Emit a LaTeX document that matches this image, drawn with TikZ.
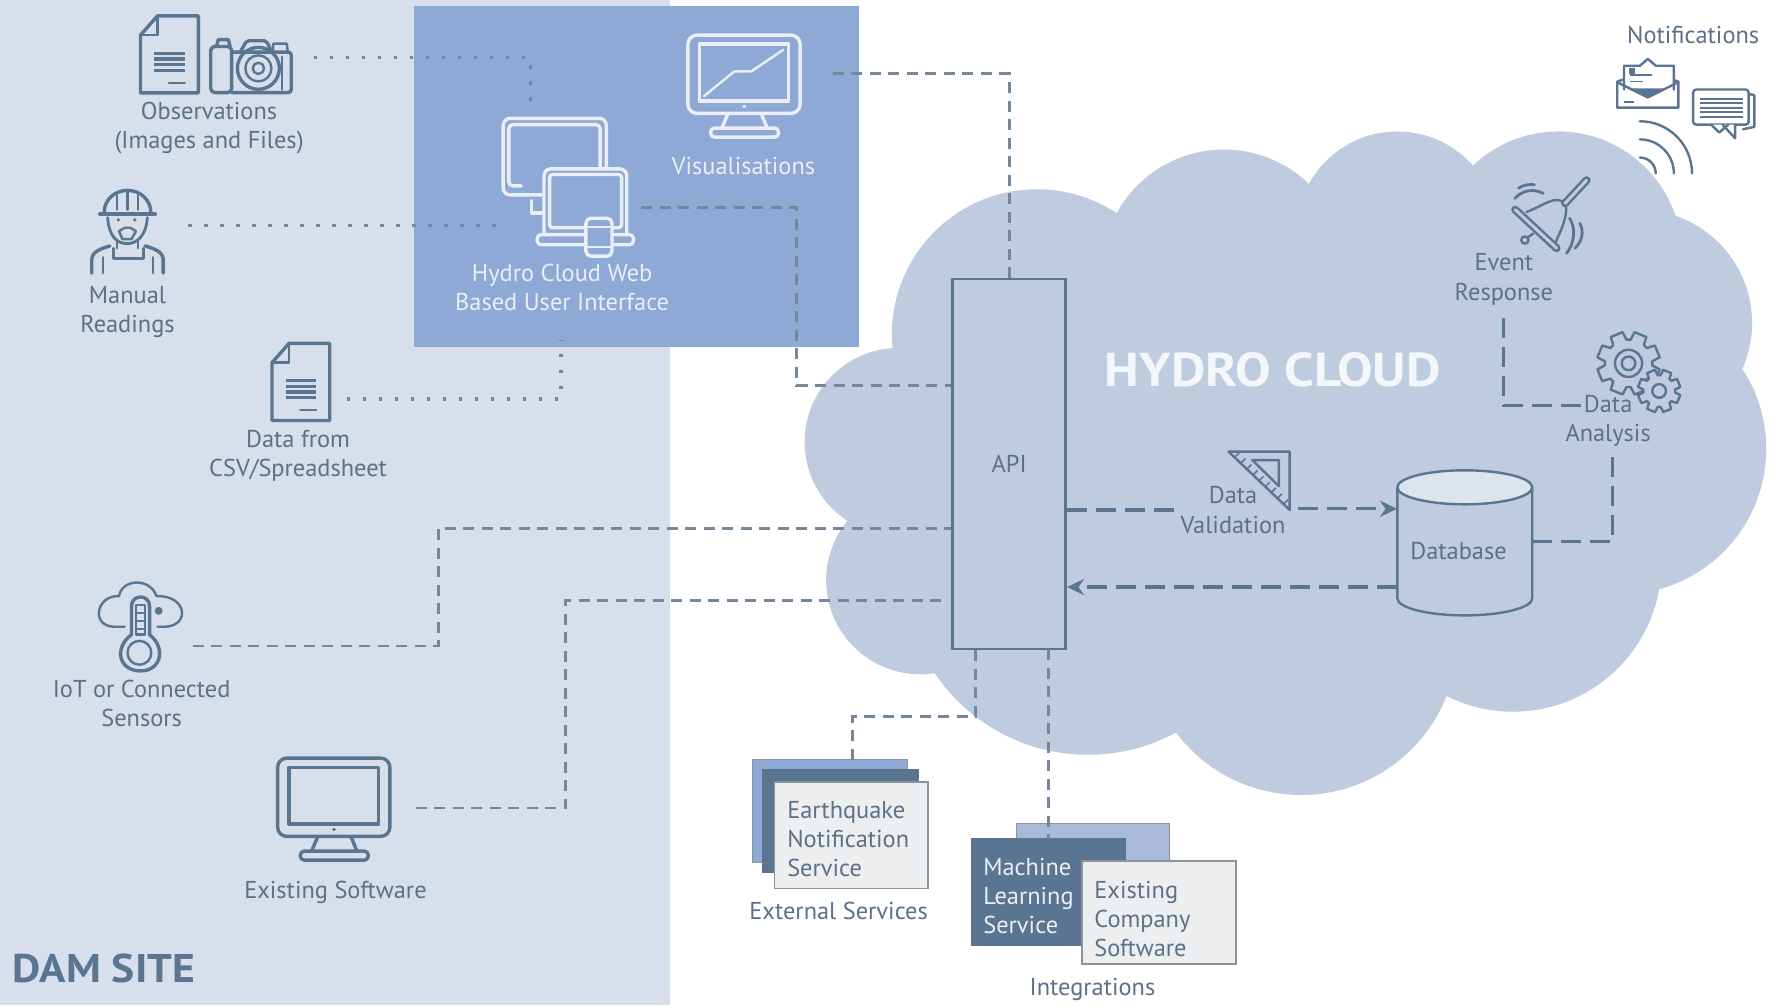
\documentclass[tikz,border=0pt]{standalone}
\usepackage{fontspec}
\setmainfont{PT Sans}
\usetikzlibrary{arrows.meta}
\definecolor{damc}{HTML}{D6DFEB}
\definecolor{bluec}{HTML}{8EA9D6}
\definecolor{cloudc}{HTML}{BFCCE0}
\definecolor{darkc}{HTML}{5A7590}
\definecolor{txtc}{HTML}{5C7087}
\definecolor{linec}{HTML}{75879B}
\definecolor{uic}{HTML}{E9EEF7}
\definecolor{hcc}{HTML}{F4F6FA}
\definecolor{paperc}{HTML}{EDEEF0}
\definecolor{edgec}{HTML}{8A929E}
\definecolor{backc}{HTML}{A9B9D8}
\tikzset{
  x=1.1333pt,y=-1.1333pt,
  lbl/.style={font=\fontsize{24.4}{29.2}\selectfont,text=txtc,align=center,inner sep=0pt},
  wlbl/.style={lbl,text=uic},
  llbl/.style={lbl,align=left,anchor=west},
  icon/.style={draw=darkc,line width=3.4pt,line cap=round,line join=round},
  iconw/.style={draw=uic,line width=3.4pt,line cap=round,line join=round},
  thin icon/.style={icon,line width=2.4pt},
  dsh/.style={draw=linec,line width=2.8pt,dash pattern=on 11pt off 7.5pt},
  dshl/.style={draw=darkc,line width=3.1pt,dash pattern=on 20pt off 9pt},
  dot/.style={draw=linec,line width=3.4pt,dash pattern=on 3.5pt off 12.5pt},
  sheet/.style={draw=edgec,line width=1.6pt,inner sep=0pt},
  pics/docicon/.style={code={
    \draw[icon] (15,0) -- (51,0) -- (51,68) -- (0,68) -- (0,17) -- cycle;
    \draw[thin icon] (0,17) -- (15,17) -- (15,0);
    \foreach \yy in {33,38,43,48}{\draw[icon,line cap=butt] (12,\yy) -- (39,\yy);}
    \draw[thin icon] (25,59) -- (39,59);
  }},
  pics/monitor/.style n args={2}{code={
    \draw[#1,fill=#2] (0,8) arc[start angle=180,end angle=270,radius=8] -- (91,0) arc[start angle=-90,end angle=0,radius=8] -- (99,61) arc[start angle=0,end angle=90,radius=8] -- (8,69) arc[start angle=90,end angle=180,radius=8] -- cycle;
    \draw[#1] (10,8) rectangle (89,58);
    \draw[#1] (35,70) -- (30,82);
    \draw[#1] (65,70) -- (70,82);
    \draw[#1,rounded corners=4pt] (20,82) rectangle (80,90);
    \draw[#1] (49.5,63) -- (50,63);
  }},
  pics/gear/.style n args={2}{code={
    \draw[thin icon,fill=cloudc] (#2,0)
      \foreach \i in {0,...,7}{
        -- ({\i*45+5}:#2) -- ({\i*45+11}:#1) -- ({\i*45+34}:#1) -- ({\i*45+40}:#2)
      } -- cycle;
  }},
}
\begin{document}
\begin{tikzpicture}
\useasboundingbox (0,0) rectangle (1568,887.7);
\fill[white] (0,0) rectangle (1568,887.7);
\fill[damc] (0,0) rectangle (591,887);
\fill[bluec] (365,5) rectangle (758,306);
% cloud
\fill[cloudc]
  (915,295) circle[radius=128]
  (1080,240) circle[radius=108]
  (1233,205) circle[radius=89]
  (1375,225) circle[radius=109]
  (1446,285) circle[radius=100]
  (1430,396) circle[radius=128.5]
  (1335,497) circle[radius=131]
  (1148,563.5) circle[radius=138]
  (960,503) circle[radius=163]
  (812,512) circle[radius=83]
  (793,390) circle[radius=83]
  (1130,400) ellipse[x radius=320,y radius=220];
% main nodes
\node[draw=darkc,line width=2.6pt,minimum width=113pt,minimum height=370pt,inner sep=0pt,text=txtc,font=\fontsize{24.4}{26}\selectfont] (api) at (890.5,409.5) {API};
\node[inner sep=0pt,minimum width=135pt,minimum height=145pt] (db) at (1292.5,479) {};
\draw[draw=darkc,line width=2.4pt] (1233,430) -- (1233,528) arc[start angle=180,end angle=0,x radius=59.5,y radius=15] -- (1352,430);
\draw[draw=darkc,line width=2.4pt,fill=damc!85!white] (1292.5,430) ellipse[x radius=59.5,y radius=15];
\node[lbl] (dbt) at (1287,486.5) {Database};
% sheets
\node[sheet,fill=bluec,minimum width=155pt,minimum height=103pt] (ext1) at (732.5,715.5) {};
\node[sheet,draw=darkc,fill=darkc,minimum width=155pt,minimum height=103pt] (ext2) at (741.5,724.5) {};
\node[sheet,fill=paperc,minimum width=153.5pt,minimum height=106.5pt] (ext3) at (751.2,737) {};
\node[sheet,fill=backc,minimum width=153pt,minimum height=80pt] (int1) at (964.5,762) {};
\node[sheet,draw=darkc,fill=darkc,minimum width=154pt,minimum height=107pt] (int2) at (925,787.2) {};
\node[sheet,fill=paperc,minimum width=153.7pt,minimum height=103pt] (int3) at (1022.8,805.3) {};
% connector ends
\coordinate (obsE) at (277,51); \coordinate (obsK) at (468,51); \coordinate (uiA) at (468,90);
\coordinate (manE) at (166,199); \coordinate (uiB) at (438,199);
\coordinate (csvE) at (306,352); \coordinate (csvK) at (495,352); \coordinate (uiC) at (495,300);
\coordinate (visE) at (735,65);
\coordinate (uiE) at (566,183); \coordinate (uiK1) at (703,183); \coordinate (uiK2) at (703,340);
\coordinate (iotE) at (170,570); \coordinate (iotK1) at (387,570); \coordinate (iotK2) at (387,466);
\coordinate (swE) at (367,713); \coordinate (swK1) at (499,713); \coordinate (swK2) at (499,530); \coordinate (swK3) at (831,530);
\coordinate (exK1) at (861,632); \coordinate (exK2) at (752,632); \coordinate (exE) at (752,672);
\coordinate (evS) at (1327,275); \coordinate (evK) at (1327,358); \coordinate (daW) at (1395,358);
\coordinate (daS) at (1423,400); \coordinate (daK) at (1423,478);
\coordinate (dvW) at (1037,450); \coordinate (dvE) at (1145,449);
\coordinate (inS) at (925,573); \coordinate (inE) at (925,740);
\coordinate (dbW) at (1233,518); \coordinate (dbE) at (1352,478);
% connectors
\draw[dot] (obsE) -- (obsK) -- (uiA);
\draw[dot] (manE) -- (uiB);
\draw[dot] (csvE) -- (csvK) -- (uiC);
\draw[dsh] (visE) -| (api.north);
\draw[dsh] (uiE) -- (uiK1) -- (uiK2) -- (api.west |- uiK2);
\draw[dsh] (iotE) -- (iotK1) -- (iotK2) -- (api.west |- iotK2);
\draw[dsh] (swE) -- (swK1) -- (swK2) -- (swK3);
\draw[dsh] (api.south -| exK1) -- (exK1) -- (exK2) -- (exE);
\draw[dsh] (inS) -- (inE);
\draw[dshl] (api.east |- dvW) -- (dvW);
\draw[dshl,-{Stealth[length=17pt,width=16pt]}] (dvE) -- (db.west |- dvE);
\draw[dshl,-{Stealth[length=17pt,width=16pt]}] (dbW) -- (api.east |- dbW);
\draw[dshl] (dbE) -- (daK) -- (daS);
\draw[dshl] (daW) -- (evK) -- (evS);
% observations icons
\pic (doc1) at (124,14) {docicon};
\pic (doc2) at (240,303) {docicon};
\draw[icon,rounded corners=3pt] (204.4,46) -- (257,46) -- (257,81.7) -- (204.4,81.7);
\draw[icon,rounded corners=4pt] (186,81.7) rectangle (204.4,41);
\draw[icon] (191,41) -- (192.6,35) -- (201.5,35) -- (203,41);
\draw[icon,rounded corners=2pt] (212,46) -- (217.6,36) -- (235,36) -- (240,46);
\draw[thin icon] (241,46) -- (241,38.5) -- (253,38.5) -- (254,46);
\draw[icon] (228,60.3) circle[radius=18.5];
\draw[thin icon] (228,60.3) circle[radius=11.5];
\draw[thin icon] (228,60.3) circle[radius=5];
\draw[thin icon] (249,50) -- (249,79);
% worker
\draw[icon] (92,187) arc[start angle=180,end angle=360,x radius=20.5,y radius=19];
\draw[icon] (88,189) -- (137,189);
\draw[thin icon] (103,172) -- (103,185) (112.5,169) -- (112.5,185) (122,172) -- (122,185);
\draw[icon,line width=2.8pt] (95,192) .. controls (96,208) and (103,215) .. (112,215) .. controls (121,215) and (129,208) .. (130,192);
\draw[thin icon] (105,204) -- (110,201) -- (115,201) -- (120,204) -- (116,211) -- (108,211) -- cycle;
\fill[darkc] (104.4,194) circle[radius=1.6] (119,194) circle[radius=1.6];
\draw[icon] (81,241) -- (81,229) .. controls (81,222) and (90,219) .. (97,217);
\draw[icon] (144,241) -- (144,229) .. controls (144,222) and (135,219) .. (128,217);
\draw[thin icon] (91,227) -- (91,241) (135,227) -- (135,241);
\draw[thin icon] (100,219) -- (100,228) -- (126.5,228) -- (126.5,219);
\draw[thin icon] (103,212) -- (103,219) (122,212) -- (122,219);
% visualisations monitor
\pic (vism) at (607,31) {monitor={iconw}{none}};
\draw[iconw,line width=2.4pt] (621,85) -- (648,63) -- (663,63) -- (691,44);
% software monitor
\begin{scope}[shift={(245,669)},scale=1.02]
\pic (swm) at (0,0) {monitor={icon}{none}};
\end{scope}
% web UI icon
\draw[iconw,rounded corners=7pt] (478,172) -- (444,172) -- (444,104.4) -- (535,104.4) -- (535,148);
\draw[iconw,rounded corners=4pt] (460,164) -- (449,164) -- (449,110) -- (529.5,110) -- (529.5,148);
\draw[iconw] (469,177) -- (469,188) -- (478,188);
\draw[iconw,fill=bluec,rounded corners=7pt] (480,206) -- (480,149) -- (553,149) -- (553,206);
\draw[iconw,rounded corners=3pt] (485,201) -- (485,154) -- (548.5,154) -- (548.5,201) -- cycle;
\draw[iconw,fill=bluec,rounded corners=4pt] (474,207) rectangle (559,216);
\draw[iconw,fill=bluec,rounded corners=5pt] (517,192.6) rectangle (540,226);
\draw[iconw,line width=2pt] (517,200) -- (540,200) (517,218) -- (540,218);
% notification icons
\draw[thin icon] (1433,70) -- (1427,72) -- (1427,95) -- (1481,95) -- (1481,72) -- (1475,70);
\draw[thin icon,fill=white] (1433,79) -- (1433,58) -- (1447,58) -- (1454,52) -- (1461,58) -- (1477,58) -- (1477,79);
\fill[darkc] (1439,78) -- (1469,78) -- (1454,85) -- cycle;
\draw[thin icon] (1428,73) -- (1454,86) -- (1480,73);
\draw[darkc,line width=1.6pt] (1438,66) -- (1458,66) (1438,72) -- (1450,72);
\fill[darkc] (1437,60) rectangle (1443,65);
\draw[darkc,line width=1.6pt] (1433,90) -- (1442,90);
\draw[thin icon,fill=white] (1539,82) -- (1548,84) -- (1548,112) -- (1538,114);
\draw[thin icon,fill=white,rounded corners=3pt] (1494,79) rectangle (1543,110);
\draw[thin icon,fill=white] (1510,110) -- (1517,117) -- (1525,110) (1520,110) -- (1531,122) -- (1531,110);
\foreach \yy in {87,91,95,99,103}{\draw[darkc,line width=2pt] (1500,\yy) -- (1538,\yy);}
\draw[thin icon] (1447,107) arc[start angle=-90,end angle=0,radius=46];
\draw[thin icon] (1447,123) arc[start angle=-90,end angle=0,radius=30];
\draw[thin icon] (1447,139) arc[start angle=-90,end angle=0,radius=14];
% bell
\draw[thin icon] (1347,187) .. controls (1356,184) and (1364,178) .. (1372,176.5) .. controls (1378,176) and (1382,179) .. (1382,184) .. controls (1382,195) and (1376,206) .. (1372,215);
\draw[icon,line width=8pt] (1337,185) -- (1373.5,219);
\draw[draw=cloudc,line width=3pt,line cap=round] (1337,185) -- (1373.5,219);
\draw[icon,line width=8pt] (1381,179.4) -- (1400,159);
\draw[draw=cloudc,line width=3pt,line cap=round] (1381,179.4) -- (1400,159);
\draw[thin icon] (1345.5,211.8) circle[radius=3.2];
\draw[thin icon] (1348,209.5) -- (1353,206);
\draw[icon,line width=2.8pt] (1336.7,175) .. controls (1343,168) and (1353,166) .. (1361.7,170.6);
\draw[icon,line width=2.8pt] (1340,166) .. controls (1344,163) and (1350,162.5) .. (1354,163);
\draw[icon,line width=2.8pt] (1385,192.6) .. controls (1391,202) and (1389,215) .. (1382.3,223.5);
\draw[icon,line width=2.8pt] (1394,197) .. controls (1398,205) and (1396,213) .. (1389.7,219);
% gears
\pic (g1) at (1437,320.6) {gear={28}{21}};
\draw[thin icon] (1437,320.6) circle[radius=12];
\draw[thin icon] (1437,320.6) circle[radius=6];
\pic (g2) at (1464,345) {gear={19}{14}};
\draw[thin icon] (1464,345) circle[radius=6];
% set square
\draw[thin icon] (1084,398.5) -- (1138,398.5) -- (1138,450) -- cycle;
\draw[thin icon] (1105,406) -- (1128.5,406) -- (1128.5,429) -- cycle;
\foreach \tt in {0.1,0.2,...,0.91}{\draw[darkc,line width=1.5pt] ({1084+54*\tt},{398.5+51.5*\tt}) -- ++(4,-4);}
% thermometer cloud
\draw[thin icon] (110,553) -- (100,553) .. controls (80,552) and (85,525) .. (105,526) .. controls (108,510) and (133,510) .. (138,526) .. controls (165,525) and (168,552) .. (146,553) -- (139,553);
\fill[darkc] (140,539) circle[radius=3.5];
\draw[icon] (116,560) -- (116,535) .. controls (116,524) and (132,524) .. (132,535) -- (132,560);
\draw[thin icon] (123,576) circle[radius=10.5];
\draw[icon] (116,560) .. controls (100,572) and (105,592) .. (124,592) .. controls (142,592) and (147,572) .. (132,560);
\draw[thin icon] (120,534) rectangle (128,560);
\draw[darkc,line width=1.6pt] (120,541) -- (128,541) (120,548) -- (128,548) (120,555) -- (128,555);
% labels
\node[lbl] (t1) at (184.5,113) {Observations\\(Images and Files)};
\node[lbl] (t2) at (112.5,275) {Manual\\Readings};
\node[lbl] (t3) at (263,402.5) {Data from\\CSV/Spreadsheet};
\node[lbl] (t4) at (125,620.5) {IoT or Connected\\Sensors};
\node[lbl] (t5) at (296,787) {Existing Software};
\node[wlbl] (t6) at (656,146.5) {Visualisations};
\node[wlbl] (t7) at (496,253.5) {Hydro Cloud Web\\Based User Interface};
\node[lbl] (t8) at (1494,31) {Notifications};
\node[lbl] (t9) at (1327,246.5) {Event\\Response};
\node[lbl] (t10) at (1419,371.5) {Data\\Analysis};
\node[lbl] (t11) at (1088,450) {Data\\Validation};
\node[lbl] (t12) at (740,803.5) {External Services};
\node[lbl] (t13) at (964,873) {Integrations};
\node[llbl] (t14) at (694.5,740.5) {Earthquake\\Notification\\Service};
\node[llbl,text=uic] (t15) at (867.5,790.5) {Machine\\Learning\\Service};
\node[llbl] (t16) at (965.5,811) {Existing\\Company\\Software};
\node[font=\fontsize{47.5}{52}\bfseries\selectfont,text=hcc,inner sep=0pt] (hc) at (1123,326) {\scalebox{1.12}[1]{HYDRO CLOUD}};
\node[font=\fontsize{40}{44}\bfseries\selectfont,text=darkc,inner sep=0pt,anchor=west] (ds) at (11,855) {\scalebox{1.09}[1]{DAM SITE}};
\end{tikzpicture}
\end{document}
